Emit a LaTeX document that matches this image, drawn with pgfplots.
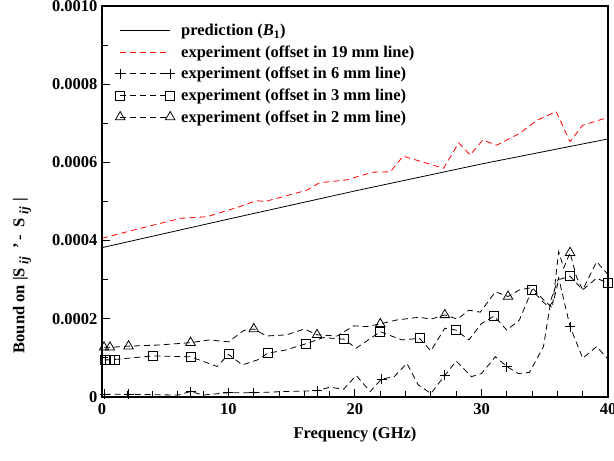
\documentclass[border=0pt]{standalone}
\usepackage{fontspec}
\setmainfont{Liberation Serif}
\usepackage{pgfplots}
\pgfplotsset{compat=1.18}
\newcommand{\sub}{\raisebox{-4bp}{\fontsize{13bp}{13bp}\selectfont\textit{ij}}}
\begin{document}
\begin{tikzpicture}[font=\fontsize{16.5bp}{19bp}\selectfont\bfseries]
\useasboundingbox (-102bp,-64bp) rectangle (512bp,397bp);
\begin{axis}[
  scale only axis, width=506bp, height=391bp,
  xmin=0, xmax=40, ymin=0, ymax=10,
  axis line style={line width=1.5bp},
  xtick={0,10,20,30,40}, xticklabels={0,10,20,30,40},
  ytick={0,2,4,6,8,10}, yticklabels={0,0.0002,0.0004,0.0006,0.0008,0.0010},
  minor xtick={2,4,6,8,12,14,16,18,22,24,26,28,32,34,36,38},
  minor ytick={1,3,5,7,9},
  tick align=inside, xtick pos=left, ytick pos=left,
  major tick length=8bp, minor tick length=6bp,
  every tick/.style={line width=1bp, black},
  xticklabel style={yshift=-3bp},
  yticklabel style={xshift=-1bp},
  xlabel={Frequency (GHz)},
  ylabel={Bound on |S\hspace{4bp}\sub\hspace{8bp}'\hspace{3bp}-\hspace{7bp}S\hspace{4bp}\sub\hspace{6bp}|},
  xlabel style={at={(axis description cs:0.5,0)}, anchor=center, yshift=-38bp},
  ylabel style={at={(axis description cs:0,0.5)}, anchor=center, yshift=80bp, xshift=-74bp},
  legend style={draw=none, fill=none, at={(axis description cs:0,1)}, anchor=north west,
    xshift=10bp, yshift=-13bp, nodes={inner sep=3bp}, column sep=3bp, row sep=2.5bp},
  legend cell align=left,
  legend image code/.code={\draw[#1, mark indices={1,3}] plot coordinates {(0bp,0bp) (25bp,0bp) (50bp,0bp)};},
  every axis plot/.append style={line width=0.8bp},
]
\addplot[black, solid] coordinates {(0,3.82) (10,4.55) (20,5.27) (30,5.96) (40,6.60)};
\addlegendentry{prediction (\textit{B}\textsubscript{1})}
\addplot[red, dash pattern=on 6bp off 4bp] coordinates {
(0,4.06) (3.0,4.31) (6.2,4.57) (8.3,4.61) (10.9,4.87) (12.2,5.02) (12.9,5.00) (16.2,5.29)
(17.2,5.48) (19.3,5.55) (21.4,5.75) (22.8,5.76) (23.8,6.16) (27.0,5.85) (28.2,6.50)
(29.1,6.19) (30.1,6.57) (31.2,6.44) (33.0,6.74) (34.4,7.08) (35.9,7.30) (37.0,6.53)
(38.0,6.95) (40,7.15)};
\addlegendentry{experiment (offset in 19 mm line)}
\addplot[black, dash pattern=on 6bp off 4bp, mark=+, mark size=5bp, mark options={solid},
  mark indices={1,2,5,7,8,10,15,20,25,31}] coordinates {
(0.2,0.07) (2.1,0.07) (4.0,0.06) (6.0,0.05) (7.0,0.14) (8.0,0.05) (10.0,0.11) (12.0,0.11)
(14.5,0.14) (17.0,0.16) (18.0,0.25) (19.1,0.20) (20.1,0.55) (21.2,0.14) (22.1,0.46)
(23.1,0.52) (24.1,0.86) (25.0,0.31) (26.0,0.09) (27.1,0.55) (28.0,0.92) (29.2,0.52)
(30.0,0.60) (31.1,1.03) (32.0,0.78) (32.9,0.60) (33.8,0.63) (34.9,1.29) (35.5,2.50)
(36.1,3.05) (37.0,1.80) (38.0,0.99) (39.1,1.29) (40,0.97)};
\addlegendentry{experiment (offset in 6 mm line)}
\addplot[black, dash pattern=on 6bp off 4bp, mark=square, mark size=4.5bp, mark options={solid, fill=white},
  mark indices={1,2,3,4,5,7,10,12,14,16,18,21,24,27,32,35}] coordinates {
(0.2,0.95) (0.6,0.95) (1.0,0.96) (4.0,1.05) (7.0,1.03) (9.1,0.78) (10.0,1.09) (11.1,0.82)
(12.3,0.95) (13.1,1.12) (14.5,1.20) (16.1,1.36) (17.5,1.52) (19.1,1.48) (20.1,1.25)
(22.0,1.67) (23.7,1.46) (25.1,1.50) (26.0,1.18) (27.1,1.76) (28.0,1.71) (29.0,1.46)
(30.0,1.88) (31.0,2.07) (32.0,1.71) (33.0,1.97) (34.0,2.75) (34.6,2.52) (35.3,2.30)
(35.7,2.46) (36.1,3.00) (37.0,3.09) (38.0,2.74) (39.1,3.04) (40,2.91)};
\addlegendentry{experiment (offset in 3 mm line)}
\addplot[black, dash pattern=on 6bp off 4bp, mark=triangle, mark size=5.5bp, mark options={solid, fill=white},
  mark indices={1,2,3,5,9,13,17,21,26,33}] coordinates {
(0.16,1.27) (0.63,1.27) (2.1,1.30) (4.5,1.33) (7.0,1.39) (8.5,1.46) (10,1.41) (11.2,1.70)
(12.0,1.74) (13,1.56) (14.6,1.59) (16,1.74) (17.0,1.59) (18.6,1.56) (19.9,1.82) (20.9,1.80)
(22.0,1.87) (23.3,1.97) (25.1,2.04) (26.0,1.99) (27.1,2.10) (28.1,1.99) (29.0,2.22)
(29.9,2.17) (31.1,2.69) (32.1,2.57) (33.0,2.74) (34.0,2.80) (34.8,2.52) (35.6,2.28)
(36.1,3.72) (36.5,3.30) (37.0,3.69) (37.5,3.08) (38.0,2.74) (39.1,3.46) (40,3.13)};
\addlegendentry{experiment (offset in 2 mm line)}
\end{axis}
\end{tikzpicture}
\end{document}
